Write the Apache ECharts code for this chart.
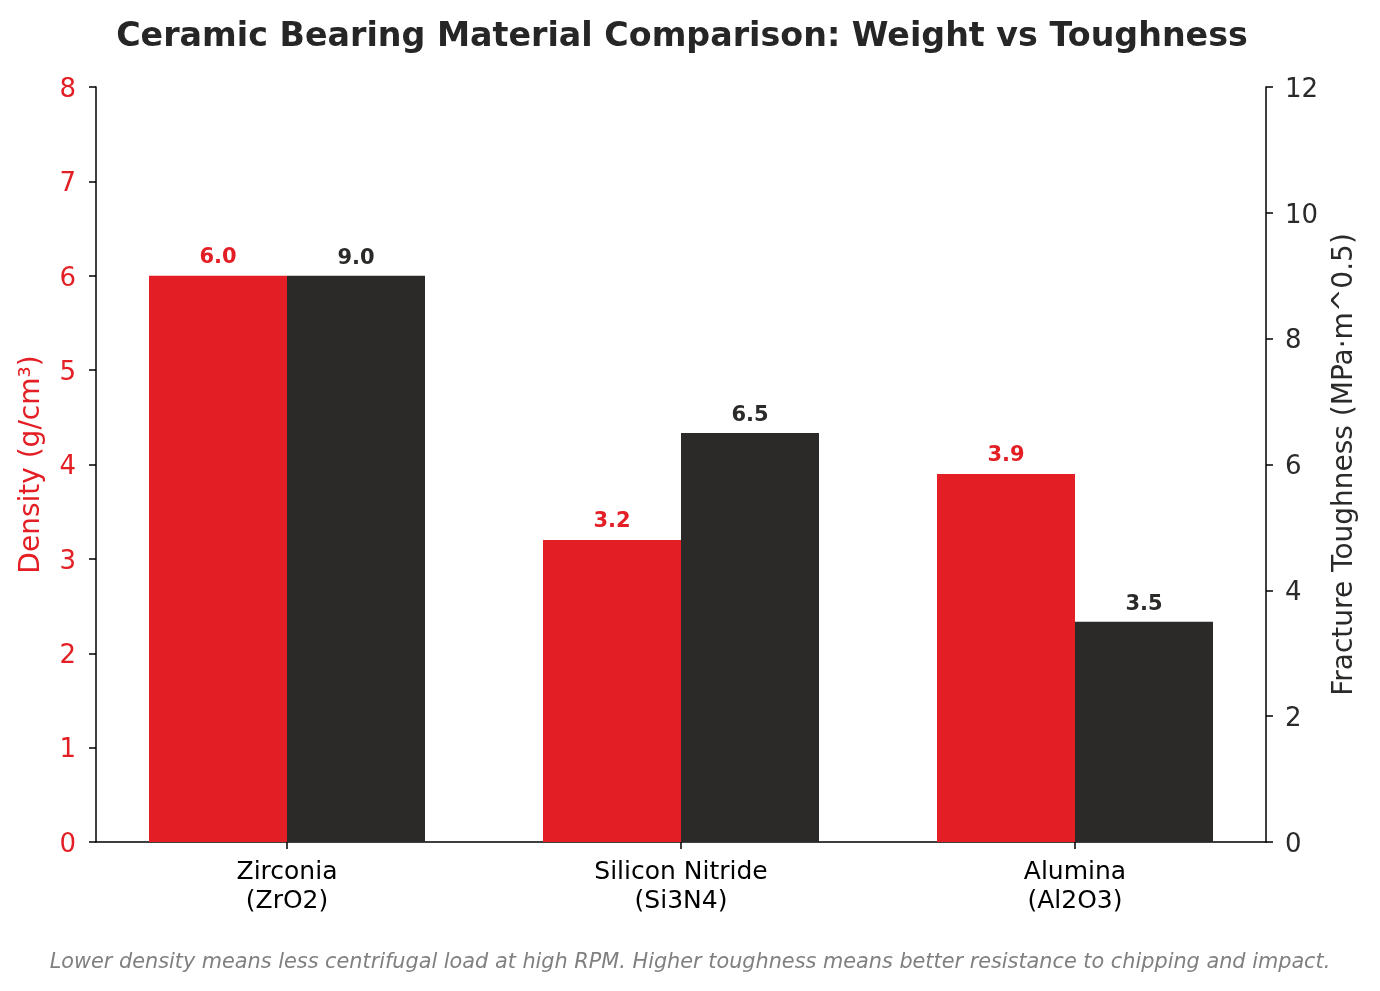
<!DOCTYPE html>
<html>
<head>
<meta charset="utf-8">
<script src="https://cdn.jsdelivr.net/npm/echarts@6/dist/echarts.min.js"></script>
<style>
html,body{margin:0;padding:0;background:#fff;}
#chart{width:1380px;height:991px;}
</style>
</head>
<body>
<div id="chart"></div>
<script>
const categories = ['Zirconia\n(ZrO2)', 'Silicon Nitride\n(Si3N4)', 'Alumina\n(Al2O3)'];
const density = [6.0, 3.2, 3.9];
const toughness = [9.0, 6.5, 3.5];
const densityTicks = {min: 0, max: 8, interval: 1};
const toughnessTicks = {min: 0, max: 12, interval: 2};

const RED = '#e31e24';
const DARK = '#2b2a29';
const FONT = 'DejaVu Sans';

const chart = echarts.init(document.getElementById('chart'), null, {renderer: 'canvas'});
chart.setOption({
  backgroundColor: '#ffffff',
  animation: false,
  textStyle: {fontFamily: FONT},
  title: [
    {
      text: 'Ceramic Bearing Material Comparison: Weight vs Toughness',
      left: 677, textAlign: 'center', top: 16,
      textStyle: {fontFamily: FONT, fontSize: 33.3, fontWeight: 'bold', color: '#262626'}
    },
    {
      text: 'Lower density means less centrifugal load at high RPM. Higher toughness means better resistance to chipping and impact.',
      left: 'center', top: 947,
      textStyle: {fontFamily: FONT, fontSize: 20.8, fontStyle: 'italic', fontWeight: 'normal', color: '#808080'}
    }
  ],
  grid: [
    {left: 90, right: 108, top: 87, bottom: 149, containLabel: false},
    {left: 96, right: 114, top: 87, bottom: 149, containLabel: false}
  ],
  xAxis: [
    {
      type: 'category', gridIndex: 0, data: categories,
      axisLine: {show: false},
      axisTick: {show: true, alignWithLabel: true, length: 7, lineStyle: {color: '#000', width: 1.5}},
      axisLabel: {color: '#000', fontFamily: FONT, fontSize: 25, lineHeight: 29, margin: 16},
      splitLine: {show: false}
    },
    {
      type: 'value', gridIndex: 1, min: 0, max: 1,
      axisLine: {show: true, lineStyle: {color: '#000', width: 1.5}},
      axisTick: {show: false}, axisLabel: {show: false}, splitLine: {show: false}
    }
  ],
  yAxis: [
    {
      type: 'value', gridIndex: 0, position: 'left', offset: -6,
      min: densityTicks.min, max: densityTicks.max, interval: densityTicks.interval,
      name: 'Density (g/cm³)', nameLocation: 'middle', nameGap: 50, nameRotate: 90,
      nameTextStyle: {color: RED, fontFamily: FONT, fontSize: 28},
      axisLine: {show: true, lineStyle: {color: '#000', width: 1.5}},
      axisTick: {show: true, length: 7, lineStyle: {color: '#000', width: 1.5}},
      axisLabel: {color: RED, fontFamily: FONT, fontSize: 26, margin: 20, verticalAlign: 'top', lineHeight: 6},
      splitLine: {show: false}
    },
    {
      type: 'value', gridIndex: 0, position: 'right', offset: -6,
      min: toughnessTicks.min, max: toughnessTicks.max, interval: toughnessTicks.interval,
      name: 'Fracture Toughness (MPa·m^0.5)', nameLocation: 'middle', nameGap: 65, nameRotate: 90,
      nameTextStyle: {color: DARK, fontFamily: FONT, fontSize: 28},
      axisLine: {show: true, lineStyle: {color: '#000', width: 1.5}},
      axisTick: {show: true, length: 7, lineStyle: {color: '#000', width: 1.5}},
      axisLabel: {color: DARK, fontFamily: FONT, fontSize: 26, margin: 19, verticalAlign: 'top', lineHeight: 6},
      splitLine: {show: false}
    },
    {type: 'value', gridIndex: 1, show: false, min: 0, max: 1}
  ],
  series: [
    {
      name: 'Density', type: 'bar', xAxisIndex: 0, yAxisIndex: 0,
      data: density, barWidth: 138, barGap: '0%',
      itemStyle: {color: RED},
      label: {show: true, position: 'top', distance: 8, color: RED, fontFamily: FONT,
        fontSize: 21, fontWeight: 'bold', formatter: p => p.value.toFixed(1)}
    },
    {
      name: 'Toughness', type: 'bar', xAxisIndex: 0, yAxisIndex: 1,
      data: toughness, barWidth: 138, barGap: '0%',
      itemStyle: {color: DARK},
      label: {show: true, position: 'top', distance: 7, color: DARK, fontFamily: FONT,
        fontSize: 21, fontWeight: 'bold', formatter: p => p.value.toFixed(1)}
    }
  ]
});
</script>
</body>
</html>
